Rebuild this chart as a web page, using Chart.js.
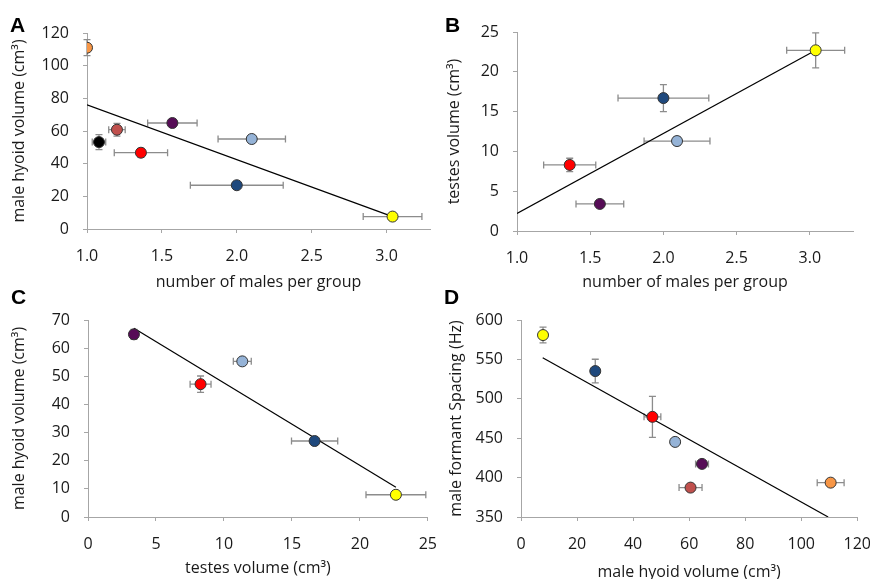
<!DOCTYPE html>
<html>
<head>
<meta charset="utf-8">
<script src="https://cdn.jsdelivr.net/npm/chart.js@4.4.1/dist/chart.umd.min.js"></script>
<style>
  body { margin: 0; background: #fff; width: 870px; height: 579px; overflow: hidden; position: relative; }
  .panel { position: absolute; }
  .letter { position: absolute; font-family: 'Liberation Sans', Arial, sans-serif; font-weight: bold; font-size: 21px; color: #000; }
</style>
</head>
<body>
<div class="panel" id="pA" style="left:0;top:0;width:440px;height:292px"><canvas id="chartA"></canvas></div>
<div class="panel" id="pB" style="left:435px;top:0;width:435px;height:292px"><canvas id="chartB"></canvas></div>
<div class="panel" id="pC" style="left:0;top:290px;width:451px;height:290px"><canvas id="chartC"></canvas></div>
<div class="panel" id="pD" style="left:435px;top:290px;width:450px;height:292px"><canvas id="chartD"></canvas></div>
<div class="letter" style="left:10px;top:13px">A</div>
<div class="letter" style="left:445px;top:13px">B</div>
<div class="letter" style="left:11px;top:285px">C</div>
<div class="letter" style="left:444px;top:285px">D</div>
<script>
// group colours (one per species / group)
const ORANGE = '#f79646', BLACK = '#000000', BROWN = '#c0504d', RED = '#ff0000',
      PURPLE = '#560c56', LIGHTBLUE = '#95b3d7', DARKBLUE = '#1f497d', YELLOW = '#ffff00';

// A: number of males per group vs male hyoid volume
const malesA = [1.0, 1.08, 1.2, 1.36, 1.57, 2.1, 2.0, 3.04];
const malesErrA = [0, 0.045, 0.055, 0.178, 0.165, 0.225, 0.31, 0.196];
const hyoidA = [111, 53.2, 60.8, 46.7, 64.9, 55.1, 26.8, 7.6];
const hyoidErrA = [4.9, 4.6, 3.9, 2.7, 1, 1, 1, 1];
const colorsA = [ORANGE, BLACK, BROWN, RED, PURPLE, LIGHTBLUE, DARKBLUE, YELLOW];
const fitA = [[1.0, 76.0], [3.04, 7.6]];

// B: number of males per group vs testes volume
const malesB = [1.36, 1.566, 2.093, 2.0, 3.04];
const malesErrB = [0.178, 0.163, 0.225, 0.31, 0.198];
const testesB = [8.3, 3.4, 11.3, 16.7, 22.7];
const testesErrB = [0.84, 0.3, 0.55, 1.7, 2.2];
const colorsB = [RED, PURPLE, LIGHTBLUE, DARKBLUE, YELLOW];
const fitB = [[1.0, 2.2], [3.04, 22.7]];

// C: testes volume vs male hyoid volume
const testesC = [3.38, 11.35, 8.28, 16.67, 22.65];
const testesErrC = [0.3, 0.66, 0.77, 1.7, 2.2];
const hyoidC = [64.9, 55.3, 47.2, 27.0, 7.9];
const hyoidErrC = [1.8, 0.8, 2.9, 1, 1];
const colorsC = [PURPLE, LIGHTBLUE, RED, DARKBLUE, YELLOW];
const fitC = [[3.38, 67.1], [22.65, 10.6]];

// D: male hyoid volume vs male formant spacing
const hyoidD = [7.86, 26.5, 46.9, 55.0, 64.6, 60.5, 110.5];
const hyoidErrD = [0.5, 0.5, 3, 0.5, 2.3, 4.1, 4.8];
const formantD = [580.9, 535.2, 477.1, 445.3, 417.4, 387.3, 393.6];
const formantErrD = [10, 15, 26, 2, 3, 2, 4];
const colorsD = [YELLOW, DARKBLUE, RED, LIGHTBLUE, PURPLE, BROWN, ORANGE];
const fitD = [[7.74, 552.1], [109.6, 350]];

// tick values shown on each axis
const ticksMales = [1.0, 1.5, 2.0, 2.5, 3.0];
const ticksHyoidA = [0, 20, 40, 60, 80, 100, 120];
const ticksTestesB = [0, 5, 10, 15, 20, 25];
const ticksTestesC = [0, 5, 10, 15, 20, 25];
const ticksHyoidC = [0, 10, 20, 30, 40, 50, 60, 70];
const ticksHyoidD = [0, 20, 40, 60, 80, 100, 120];
const ticksFormant = [350, 400, 450, 500, 550, 600];

const FONT = "'Open Sans', sans-serif";
const AXIS_GREY = '#a6a6a6';

// draws horizontal / vertical error bars with caps under the markers
const errorBars = {
    id: 'errorBars',
    beforeDatasetsDraw(chart) {
        const { ctx, scales: { x, y } } = chart;
        const cap = 3.5;
        ctx.save();
        ctx.strokeStyle = '#8c8c8c';
        ctx.lineWidth = 1.3;
        chart.data.datasets[0].data.forEach(p => {
            const px = x.getPixelForValue(p.x);
            const py = y.getPixelForValue(p.y);
            ctx.beginPath();
            if (p.xErr) {
                const l = x.getPixelForValue(p.x - p.xErr);
                const r = x.getPixelForValue(p.x + p.xErr);
                ctx.moveTo(l, py); ctx.lineTo(r, py);
                ctx.moveTo(l, py - cap); ctx.lineTo(l, py + cap);
                ctx.moveTo(r, py - cap); ctx.lineTo(r, py + cap);
            }
            if (p.yErr) {
                const t = y.getPixelForValue(p.y + p.yErr);
                const b = y.getPixelForValue(p.y - p.yErr);
                ctx.moveTo(px, t); ctx.lineTo(px, b);
                ctx.moveTo(px - cap, t); ctx.lineTo(px + cap, t);
                ctx.moveTo(px - cap, b); ctx.lineTo(px + cap, b);
            }
            ctx.stroke();
        });
        ctx.restore();
    }
};

function axis(cfg) {
    return {
        type: 'linear',
        min: cfg.min,
        max: cfg.max,
        afterBuildTicks: s => { s.ticks = cfg.ticks.map(v => ({ value: v })); },
        afterFit: s => {
            if (cfg.width) s.width = cfg.width;
            if (cfg.height) s.height = cfg.height;
        },
        grid: { drawOnChartArea: false, drawTicks: true, tickLength: 4, color: AXIS_GREY, lineWidth: 1 },
        border: { display: true, color: AXIS_GREY, width: 1 },
        ticks: {
            color: '#1a1a1a',
            font: { family: FONT, size: 16 },
            padding: cfg.tickPad,
            maxRotation: 0,
            autoSkip: false,
            callback: cfg.fmt || (v => v)
        },
        title: {
            display: true,
            text: cfg.title,
            color: '#1a1a1a',
            font: { family: FONT, size: 16 },
            padding: cfg.titlePad
        }
    };
}

function makePanel(id, p) {
    const points = p.xs.map((x, i) => ({ x, y: p.ys[i], xErr: p.xErr[i], yErr: p.yErr[i] }));
    new Chart(document.getElementById(id), {
        type: 'scatter',
        data: {
            datasets: [{
                data: points,
                backgroundColor: p.colors,
                borderColor: '#333333',
                borderWidth: 1,
                pointRadius: 5.5,
                order: 0
            }, {
                type: 'line',
                data: p.fit.map(([x, y]) => ({ x, y })),
                borderColor: '#000000',
                borderWidth: 1.2,
                pointRadius: 0,
                fill: false,
                order: 1
            }]
        },
        options: {
            responsive: true,
            maintainAspectRatio: false,
            animation: false,
            layout: { padding: p.padding },
            plugins: { legend: { display: false }, tooltip: { enabled: false } },
            scales: { x: axis(p.xAxis), y: axis(p.yAxis) }
        },
        plugins: [errorBars]
    });
}

const fmt1 = v => v.toFixed(1);

makePanel('chartA', {
    xs: malesA, ys: hyoidA, xErr: malesErrA, yErr: hyoidErrA, colors: colorsA, fit: fitA,
    padding: { top: 33, right: 10, left: 0, bottom: 0 },
    xAxis: { min: 1.0, max: 3.29, ticks: ticksMales, fmt: fmt1, height: 63, tickPad: 14,
             title: 'number of males per group', titlePad: { top: 0, bottom: 0 } },
    yAxis: { min: 0, max: 120, ticks: ticksHyoidA, width: 87, tickPad: 14,
             title: 'male hyoid volume (cm³)', titlePad: { top: 10, bottom: 0 } }
});

makePanel('chartB', {
    xs: malesB, ys: testesB, xErr: malesErrB, yErr: testesErrB, colors: colorsB, fit: fitB,
    padding: { top: 32, right: 17, left: 0, bottom: 0 },
    xAxis: { min: 1.0, max: 3.295, ticks: ticksMales, fmt: fmt1, height: 61, tickPad: 14,
             title: 'number of males per group', titlePad: { top: 0, bottom: 0 } },
    yAxis: { min: 0, max: 25, ticks: ticksTestesB, width: 82, tickPad: 14,
             title: 'testes volume (cm³)', titlePad: { top: 10, bottom: 0 } }
});

makePanel('chartC', {
    xs: testesC, ys: hyoidC, xErr: testesErrC, yErr: hyoidErrC, colors: colorsC, fit: fitC,
    padding: { top: 30, right: 0, left: 0, bottom: 0 },
    xAxis: { min: 0, max: 25, ticks: ticksTestesC, height: 63, tickPad: 14,
             title: 'testes volume (cm³)', titlePad: { top: 0, bottom: 2 } },
    yAxis: { min: 0, max: 70, ticks: ticksHyoidC, width: 88, tickPad: 14,
             title: 'male hyoid volume (cm³)', titlePad: { top: 10, bottom: 0 } }
});

makePanel('chartD', {
    xs: hyoidD, ys: formantD, xErr: hyoidErrD, yErr: formantErrD, colors: colorsD, fit: fitD,
    padding: { top: 30, right: 0, left: 0, bottom: 0 },
    xAxis: { min: 0, max: 120, ticks: ticksHyoidD, height: 65, tickPad: 14,
             title: 'male hyoid volume (cm³)', titlePad: { top: 0, bottom: 0 } },
    yAxis: { min: 350, max: 600, ticks: ticksFormant, width: 86, tickPad: 14,
             title: 'male formant Spacing (Hz)', titlePad: { top: 12, bottom: 0 } }
});
</script>
</body>
</html>
